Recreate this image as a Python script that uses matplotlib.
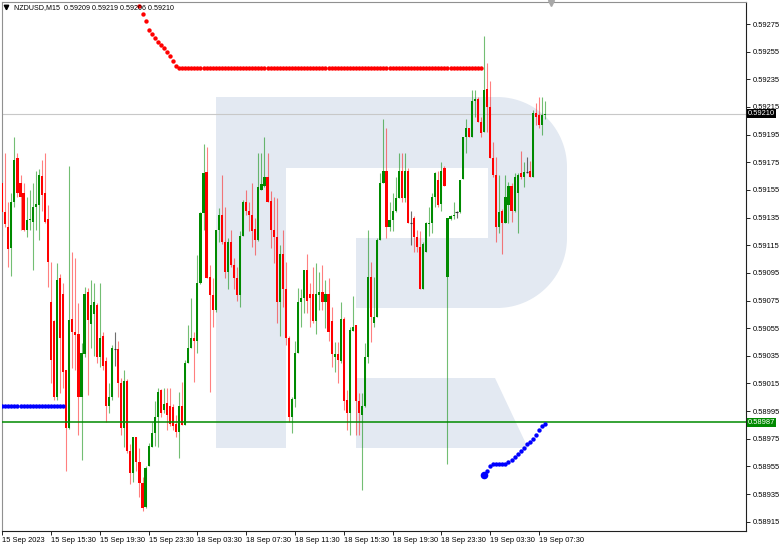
import numpy as np
import matplotlib
matplotlib.use("Agg")
import matplotlib.pyplot as plt
from matplotlib.patches import Rectangle, Polygon
from matplotlib.transforms import Affine2D

plt.rcParams['font.family'] = ['Liberation Sans', 'DejaVu Sans']

# ---------------- data ----------------
symbol = "NZDUSD,M15"
opens = [
 0.59160, 0.59139, 0.59128, 0.59113, 0.59146, 0.59178, 0.59160, 0.59153, 0.59126, 0.59133,
 0.59132, 0.59143, 0.59144, 0.59165, 0.59153, 0.59134, 0.59074, 0.59060, 0.59005, 0.59091,
 0.59080, 0.59025, 0.58983, 0.59062, 0.59052, 0.59051, 0.59005, 0.59036, 0.59081, 0.59058,
 0.59065, 0.59072, 0.59034, 0.59049, 0.59031, 0.58999, 0.59005, 0.59040, 0.59040, 0.59015,
 0.58983, 0.59017, 0.58966, 0.58950, 0.58976, 0.58958, 0.58943, 0.58926, 0.58955, 0.58969,
 0.58979, 0.58991, 0.59010, 0.58996, 0.59001, 0.58999, 0.58998, 0.58986, 0.58980, 0.58999,
 0.58985, 0.59030, 0.59041, 0.59048, 0.59046, 0.59088, 0.59138, 0.59168, 0.59092, 0.59079,
 0.59068, 0.59126, 0.59137, 0.59117, 0.59096, 0.59117, 0.59101, 0.59091, 0.59079, 0.59122,
 0.59146, 0.59140, 0.59137, 0.59127, 0.59119, 0.59155, 0.59158, 0.59164, 0.59147, 0.59126,
 0.59121, 0.59074, 0.59109, 0.59083, 0.59048, 0.58991, 0.59004, 0.59037, 0.59074, 0.59077,
 0.59097, 0.59080, 0.59080, 0.59060, 0.59079, 0.59081, 0.59074, 0.59080, 0.59060, 0.59034,
 0.59036, 0.59031, 0.59062, 0.59003, 0.58994, 0.59053, 0.59057, 0.59002, 0.58992, 0.58999,
 0.59034, 0.59092, 0.59059, 0.59063, 0.59119, 0.59160, 0.59169, 0.59128, 0.59133, 0.59140,
 0.59149, 0.59169, 0.59149, 0.59169, 0.59131, 0.59135, 0.59121, 0.59114, 0.59083, 0.59110,
 0.59130, 0.59131, 0.59150, 0.59162, 0.59145, 0.59171, 0.59092, 0.59134, 0.59136, 0.59139,
 0.59139, 0.59163, 0.59193, 0.59200, 0.59193, 0.59219, 0.59221, 0.59204, 0.59197, 0.59228,
 0.59215, 0.59178, 0.59166, 0.59128, 0.59140, 0.59131, 0.59144, 0.59158, 0.59140, 0.59153,
 0.59167, 0.59164, 0.59168, 0.59169, 0.59164, 0.59211, 0.59209, 0.59202, 0.59209]
highs = [
 0.59162, 0.59182, 0.59146, 0.59153, 0.59193, 0.59182, 0.59166, 0.59160, 0.59150, 0.59155,
 0.59160, 0.59169, 0.59170, 0.59177, 0.59182, 0.59144, 0.59103, 0.59061, 0.59102, 0.59094,
 0.59088, 0.59025, 0.59172, 0.59110, 0.59106, 0.59073, 0.59044, 0.59085, 0.59084, 0.59090,
 0.59088, 0.59073, 0.59088, 0.59052, 0.59034, 0.59015, 0.59043, 0.59052, 0.59046, 0.59019,
 0.59025, 0.59018, 0.58971, 0.58976, 0.58976, 0.58968, 0.58947, 0.58955, 0.58972, 0.58987,
 0.59002, 0.59012, 0.59011, 0.59012, 0.59012, 0.59012, 0.59000, 0.58992, 0.59009, 0.59016,
 0.59032, 0.59057, 0.59077, 0.59052, 0.59108, 0.59139, 0.59188, 0.59186, 0.59101, 0.59091,
 0.59126, 0.59142, 0.59166, 0.59143, 0.59120, 0.59126, 0.59106, 0.59099, 0.59125, 0.59148,
 0.59155, 0.59146, 0.59160, 0.59135, 0.59182, 0.59182, 0.59193, 0.59182, 0.59154, 0.59150,
 0.59149, 0.59115, 0.59126, 0.59103, 0.59049, 0.59005, 0.59046, 0.59084, 0.59083, 0.59097,
 0.59109, 0.59088, 0.59099, 0.59102, 0.59096, 0.59101, 0.59090, 0.59091, 0.59070, 0.59045,
 0.59045, 0.59074, 0.59063, 0.59010, 0.59056, 0.59078, 0.59057, 0.59008, 0.59008, 0.59044,
 0.59126, 0.59103, 0.59092, 0.59120, 0.59167, 0.59206, 0.59200, 0.59146, 0.59153, 0.59164,
 0.59182, 0.59182, 0.59182, 0.59171, 0.59140, 0.59136, 0.59126, 0.59125, 0.59117, 0.59132,
 0.59143, 0.59153, 0.59168, 0.59169, 0.59175, 0.59172, 0.59135, 0.59137, 0.59146, 0.59140,
 0.59162, 0.59193, 0.59206, 0.59200, 0.59227, 0.59227, 0.59222, 0.59208, 0.59266, 0.59247,
 0.59234, 0.59190, 0.59179, 0.59166, 0.59141, 0.59166, 0.59161, 0.59160, 0.59167, 0.59167,
 0.59183, 0.59175, 0.59179, 0.59176, 0.59213, 0.59218, 0.59222, 0.59222, 0.59219]
lows = [
 0.59122, 0.59128, 0.59099, 0.59093, 0.59143, 0.59150, 0.59126, 0.59125, 0.59121, 0.59126,
 0.59097, 0.59126, 0.59119, 0.59140, 0.59131, 0.59085, 0.59015, 0.59003, 0.59003, 0.59008,
 0.59012, 0.58952, 0.58982, 0.59026, 0.59025, 0.58978, 0.58960, 0.59034, 0.59007, 0.59041,
 0.59035, 0.59030, 0.59027, 0.59025, 0.58987, 0.58994, 0.59003, 0.59028, 0.59005, 0.58978,
 0.58969, 0.58965, 0.58942, 0.58944, 0.58952, 0.58933, 0.58923, 0.58925, 0.58955, 0.58969,
 0.58970, 0.58969, 0.58991, 0.58994, 0.58981, 0.58984, 0.58981, 0.58976, 0.58961, 0.58985,
 0.58985, 0.59030, 0.59041, 0.59016, 0.59037, 0.59087, 0.59126, 0.59091, 0.59009, 0.59056,
 0.59067, 0.59117, 0.59116, 0.59091, 0.59083, 0.59099, 0.59083, 0.59075, 0.59070, 0.59122,
 0.59137, 0.59125, 0.59114, 0.59108, 0.59118, 0.59155, 0.59157, 0.59146, 0.59113, 0.59102,
 0.59059, 0.59049, 0.59070, 0.59043, 0.58987, 0.58979, 0.58998, 0.59037, 0.59056, 0.59066,
 0.59066, 0.59056, 0.59059, 0.59051, 0.59068, 0.59068, 0.59055, 0.59046, 0.59027, 0.59023,
 0.59015, 0.59030, 0.58996, 0.58981, 0.58978, 0.59053, 0.58978, 0.58978, 0.58938, 0.58998,
 0.59030, 0.59045, 0.59056, 0.59063, 0.59119, 0.59160, 0.59120, 0.59125, 0.59125, 0.59139,
 0.59149, 0.59146, 0.59146, 0.59131, 0.59115, 0.59110, 0.59110, 0.59083, 0.59083, 0.59110,
 0.59122, 0.59124, 0.59143, 0.59143, 0.59140, 0.59158, 0.58957, 0.59133, 0.59134, 0.59135,
 0.59138, 0.59163, 0.59182, 0.59193, 0.59193, 0.59208, 0.59204, 0.59193, 0.59197, 0.59197,
 0.59178, 0.59164, 0.59117, 0.59124, 0.59109, 0.59131, 0.59131, 0.59132, 0.59139, 0.59124,
 0.59163, 0.59157, 0.59167, 0.59164, 0.59164, 0.59202, 0.59200, 0.59195, 0.59206]
closes = [
 0.59139, 0.59130, 0.59112, 0.59146, 0.59177, 0.59153, 0.59150, 0.59126, 0.59133, 0.59134,
 0.59143, 0.59145, 0.59166, 0.59151, 0.59132, 0.59103, 0.59032, 0.59005, 0.59090, 0.59048,
 0.59023, 0.58983, 0.59061, 0.59052, 0.59050, 0.59005, 0.59037, 0.59080, 0.59061, 0.59072,
 0.59074, 0.59034, 0.59048, 0.59028, 0.58999, 0.59005, 0.59041, 0.59040, 0.59015, 0.58983,
 0.59017, 0.58966, 0.58950, 0.58976, 0.58958, 0.58943, 0.58925, 0.58954, 0.58970, 0.58979,
 0.58991, 0.59009, 0.58994, 0.59000, 0.58992, 0.58986, 0.58984, 0.58980, 0.58999, 0.58985,
 0.59030, 0.59041, 0.59048, 0.59046, 0.59088, 0.59138, 0.59167, 0.59091, 0.59079, 0.59068,
 0.59126, 0.59137, 0.59117, 0.59096, 0.59117, 0.59101, 0.59091, 0.59079, 0.59122, 0.59146,
 0.59140, 0.59137, 0.59125, 0.59119, 0.59157, 0.59159, 0.59164, 0.59146, 0.59126, 0.59121,
 0.59074, 0.59109, 0.59083, 0.59048, 0.58991, 0.59004, 0.59037, 0.59074, 0.59077, 0.59097,
 0.59075, 0.59077, 0.59060, 0.59080, 0.59081, 0.59074, 0.59080, 0.59052, 0.59036, 0.59036,
 0.59032, 0.59062, 0.59002, 0.58994, 0.59054, 0.59056, 0.59002, 0.58994, 0.58999, 0.59034,
 0.59092, 0.59063, 0.59063, 0.59119, 0.59160, 0.59169, 0.59128, 0.59133, 0.59140, 0.59149,
 0.59169, 0.59149, 0.59169, 0.59131, 0.59131, 0.59121, 0.59114, 0.59083, 0.59116, 0.59131,
 0.59131, 0.59150, 0.59167, 0.59144, 0.59169, 0.59158, 0.59135, 0.59136, 0.59137, 0.59139,
 0.59162, 0.59193, 0.59200, 0.59193, 0.59219, 0.59221, 0.59204, 0.59196, 0.59227, 0.59215,
 0.59178, 0.59166, 0.59128, 0.59139, 0.59131, 0.59150, 0.59158, 0.59140, 0.59164, 0.59166,
 0.59164, 0.59168, 0.59168, 0.59164, 0.59211, 0.59208, 0.59202, 0.59209, 0.59210]

# Parabolic-SAR style dots
sar_red_start = 45
sar_red_slope = [0.59288, 0.59282, 0.59277, 0.59271, 0.59268, 0.59265, 0.59262,
                 0.59260, 0.59258, 0.59255, 0.59252, 0.59248, 0.59245]
sar_red_flat_level = 0.59243
sar_red_flat_bars = (58, 157)
sar_blue_flat_level = 0.58999
sar_blue_flat_bars = (0, 20)
sar_blue_start = 158
sar_blue_values = [0.58949, 0.58952, 0.58955, 0.58957, 0.58957, 0.58957, 0.58957,
                   0.58957, 0.58958, 0.58960, 0.58962, 0.58964, 0.58966, 0.58968,
                   0.58971, 0.58973, 0.58975, 0.58978, 0.58981, 0.58984, 0.58986]

level_line = 0.58987
price_ticks = [0.58915, 0.58935, 0.58955, 0.58975, 0.58995, 0.59015, 0.59035, 0.59055,
               0.59075, 0.59095, 0.59115, 0.59135, 0.59155, 0.59175, 0.59195, 0.59215,
               0.59235, 0.59255, 0.59275]
time_tick_bars = [0, 16, 32, 48, 64, 80, 96, 112, 128, 144, 160, 176]
time_tick_labels = ["15 Sep 2023", "15 Sep 15:30", "15 Sep 19:30", "15 Sep 23:30",
                    "18 Sep 03:30", "18 Sep 07:30", "18 Sep 11:30", "18 Sep 15:30",
                    "18 Sep 19:30", "18 Sep 23:30", "19 Sep 03:30", "19 Sep 07:30"]

# ---------------- figure ----------------
W, H = 782, 547
fig = plt.figure(figsize=(W / 100, H / 100), dpi=100)
fig.patch.set_facecolor('white')
ax = fig.add_axes([2 / W, 1 - 531 / H, 744 / W, 529.5 / H])
ax.set_facecolor('white')
ax.set_xlim(-0.066, 243.87)
ax.set_ylim(0.589083, 0.592913)

img_tr = Affine2D().scale(1 / W, -1 / H).translate(0, 1) + fig.transFigure

# watermark logo (image-pixel geometry)
logo_c = '#e3e9f2'
R = 70
t1 = np.linspace(-np.pi / 2, 0, 30)
t2 = np.linspace(0, np.pi / 2, 30)
d_pts = [(488, 97)]
d_pts += [(497 + R * np.cos(t), 167 + R * np.sin(t)) for t in t1]
d_pts += [(497 + R * np.cos(t), 238 + R * np.sin(t)) for t in t2]
d_pts += [(488, 308)]
shapes = [
    Rectangle((216, 97), 70, 351),
    Rectangle((216, 97), 284, 71),
    Polygon(d_pts, closed=True),
    Rectangle((356, 238), 144, 70),
    Polygon([(356, 378), (495, 378), (528, 448), (356, 448)], closed=True),
]
for s in shapes:
    s.set_transform(img_tr)
    s.set_facecolor(logo_c)
    s.set_edgecolor('none')
    s.set_zorder(0.5)
    ax.add_patch(s)

o = np.array(opens); h = np.array(highs); l = np.array(lows); c = np.array(closes)
idx = np.arange(len(o))
up = c > o
dn = c < o
dj = c == o

GREEN = '#008a00'
RED = '#ff0000'
ax.vlines(idx[up], l[up], h[up], color=GREEN, alpha=0.55, lw=0.8, zorder=2)
ax.vlines(idx[dn], l[dn], h[dn], color=RED, alpha=0.5, lw=0.8, zorder=2)
ax.vlines(idx[dj], l[dj], h[dj], color='#303030', alpha=0.7, lw=0.8, zorder=2)
ax.bar(idx[up], c[up] - o[up], bottom=o[up], width=0.7, color=GREEN, linewidth=0, zorder=3)
ax.bar(idx[dn], o[dn] - c[dn], bottom=c[dn], width=0.7, color=RED, linewidth=0, zorder=3)
ax.hlines(o[dj], idx[dj] - 0.4, idx[dj] + 0.4, color='#303030', lw=0.8, zorder=3)

# horizontal lines
ax.axhline(c[-1], color='#c8c8c8', lw=0.8, zorder=1)
ax.axhline(level_line, color='#008a00', lw=1.1, zorder=4)

# SAR dots
DOT = 10
rb = np.arange(sar_red_start, sar_red_start + len(sar_red_slope))
ax.scatter(rb, sar_red_slope, s=DOT, color='red', linewidths=0, zorder=5)
rf = np.arange(sar_red_flat_bars[0], sar_red_flat_bars[1] + 1)
ax.scatter(rf, np.full(len(rf), sar_red_flat_level), s=DOT, color='red', linewidths=0, zorder=5)
bf = np.arange(sar_blue_flat_bars[0], sar_blue_flat_bars[1] + 1)
ax.scatter(bf, np.full(len(bf), sar_blue_flat_level), s=DOT, color='blue', linewidths=0, zorder=5)
bb = np.arange(sar_blue_start, sar_blue_start + len(sar_blue_values))
ax.scatter(bb, sar_blue_values, s=DOT, color='blue', linewidths=0, zorder=5)
ax.scatter(bb[:1], sar_blue_values[:1], s=30, color='blue', linewidths=0, zorder=5)

# axes styling
ax.yaxis.tick_right()
ax.set_yticks(price_ticks)
ax.set_yticklabels([f"{v:.5f}" for v in price_ticks])
ax.set_xticks(time_tick_bars)
ax.set_xticklabels(time_tick_labels, ha='left')
ax.tick_params(axis='y', length=3, width=0.6, pad=1.5, labelsize=5.4, colors='black')
ax.tick_params(axis='x', length=3, width=0.6, pad=1.5, labelsize=5.4, colors='black')
for side in ['left', 'top']:
    ax.spines[side].set_color('#909090')
    ax.spines[side].set_linewidth(0.8)
for side in ['right', 'bottom']:
    ax.spines[side].set_color('#202020')
    ax.spines[side].set_linewidth(0.8)

# right price labels
ax.text(1.002, c[-1], f"{c[-1]:.5f}", transform=ax.get_yaxis_transform(), ha='left', va='center',
        fontsize=5.4, color='white', zorder=6, clip_on=False,
        bbox=dict(boxstyle='square,pad=0.12', facecolor='black', edgecolor='none'))
ax.text(1.002, level_line, f"{level_line:.5f}", transform=ax.get_yaxis_transform(), ha='left',
        va='center', fontsize=5.4, color='white', zorder=6, clip_on=False,
        bbox=dict(boxstyle='square,pad=0.12', facecolor='#008a00', edgecolor='none'))

# header
fig.text(14 / W, 1 - 7.5 / H, f"{symbol}  {o[-1]:.5f} {h[-1]:.5f} {l[-1]:.5f} {c[-1]:.5f}",
         fontsize=5.1, color='black', ha='left', va='center')
fig.lines.append(plt.Line2D([5.5], [7.3], marker='v', markersize=3.2, color='black',
                            linestyle='none', transform=img_tr))
fig.lines.append(plt.Line2D([551], [2.5], marker='v', markersize=4.5, color='#a8a8a8',
                            linestyle='none', transform=img_tr))

fig.savefig('out.png', dpi=100, facecolor='white')
